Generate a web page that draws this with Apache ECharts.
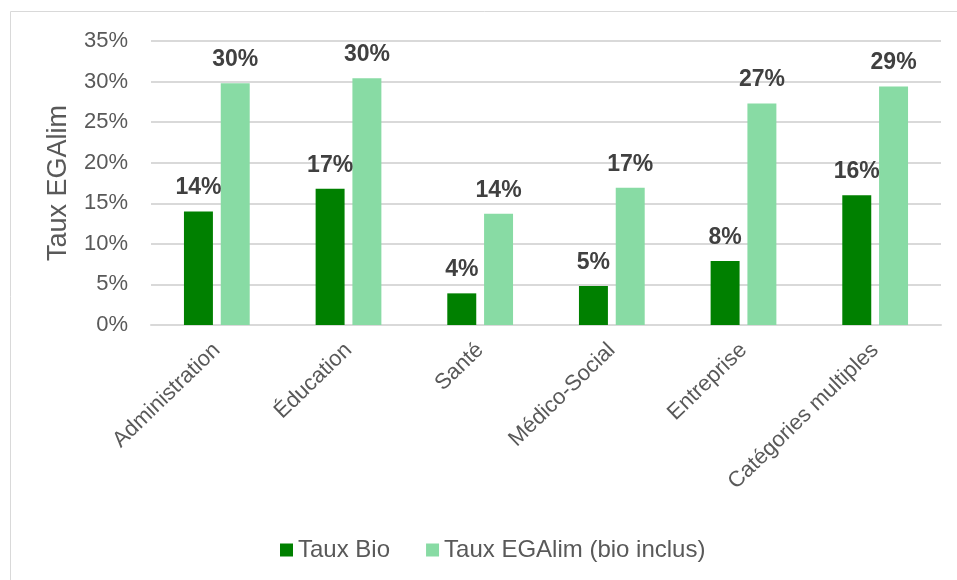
<!DOCTYPE html>
<html><head><meta charset="utf-8">
<script src="https://cdn.jsdelivr.net/npm/echarts@6/dist/echarts.min.js"></script>
<style>html,body{margin:0;padding:0;background:#fff}#c{width:957px;height:580px}</style>
</head><body><div id="c"></div>
<script>
const categories = ['Administration', 'Éducation', 'Santé', 'Médico-Social', 'Entreprise', 'Catégories multiples'];
const tauxBio = [14.0, 16.8, 3.9, 4.8, 7.9, 16.0];
const tauxEgalim = [29.8, 30.4, 13.7, 16.9, 27.3, 29.4];
const seriesNames = ['Taux Bio', 'Taux EGAlim (bio inclus)'];
const yTicks = [0, 5, 10, 15, 20, 25, 30, 35];

const chart = echarts.init(document.getElementById('c'));
const font = 'Liberation Sans, Arial, sans-serif';
const labelCfg = {
  show: true, position: 'top', distance: 12,
  formatter: p => Math.round(p.value) + '%',
  fontFamily: font, fontSize: 23, fontWeight: 'bold', color: '#404040'
};
chart.setOption({
  animation: false,
  graphic: [{type: 'rect', shape: {x: 10.5, y: 11.5, width: 960, height: 600},
    style: {fill: 'none', stroke: '#d9d9d9', lineWidth: 1}}],
  grid: {left: 151, right: 16, top: 41, bottom: 255},
  legend: {
    data: seriesNames, top: 538, left: 280, padding: 0, itemWidth: 13, itemHeight: 13, itemGap: 36,
    icon: 'rect', textStyle: {fontFamily: font, fontSize: 24, color: '#595959', padding: [0,0,0,0]}
  },
  xAxis: {
    type: 'category', data: categories,
    axisLine: {lineStyle: {color: '#d9d9d9', width: 2}},
    axisTick: {show: false},
    axisLabel: {rotate: 44, fontFamily: font, fontSize: 22, color: '#595959', margin: 22, interval: 0}
  },
  yAxis: {
    type: 'value', min: yTicks[0], max: yTicks[yTicks.length-1], interval: 5,
    name: 'Taux EGAlim', nameLocation: 'middle', nameGap: 79,
    nameTextStyle: {fontFamily: font, fontSize: 27, color: '#595959'},
    axisLine: {show: false}, axisTick: {show: false},
    axisLabel: {formatter: v => v + '%', fontFamily: font, fontSize: 22, color: '#595959', margin: 23},
    splitLine: {lineStyle: {color: '#d9d9d9', width: 2}}
  },
  series: [
    {name: seriesNames[0], type: 'bar', data: tauxBio, barWidth: '22%', barGap: '27%',
     itemStyle: {color: '#008000'}, label: labelCfg},
    {name: seriesNames[1], type: 'bar', data: tauxEgalim, barWidth: '22%',
     itemStyle: {color: '#88dba4'}, label: labelCfg}
  ]
});
</script></body></html>
